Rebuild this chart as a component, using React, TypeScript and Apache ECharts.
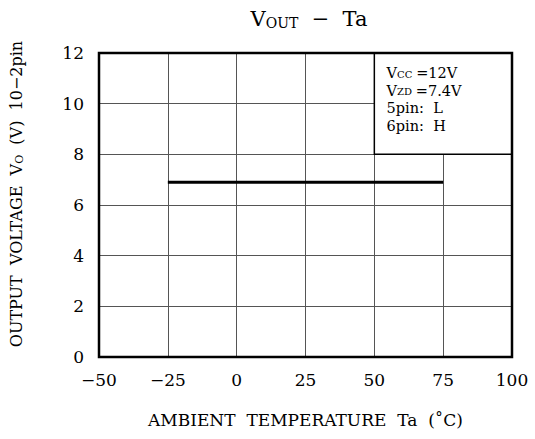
import React, { useEffect, useRef } from "react";
import * as echarts from "echarts";

const xTicks = [-50, -25, 0, 25, 50, 75, 100];
const yTicks = [0, 2, 4, 6, 8, 10, 12];
const lineX = [-25, 75];
const lineY = [6.9, 6.9];
const noteLines = ["{v|V}{s|CC} {n|=12V}", "{v|V}{s|ZD} {n|=7.4V}", "{n|5pin:  L}", "{n|6pin:  H}"];

const FONT = "DejaVu Serif";

export default function App() {
  const ref = useRef<HTMLDivElement>(null);
  useEffect(() => {
    document.body.style.margin = "0";
    const chart = echarts.init(ref.current!, null, { renderer: "svg" });
    const fmt = (v: number) => (v < 0 ? "\u2212" + Math.abs(v) : String(v));
    chart.setOption({
      animation: false,
      backgroundColor: "#fff",
      textStyle: { fontFamily: FONT, color: "#000" },
      title: {
        text: "{v|V}{s|OUT}{v|  \u2212  Ta}",
        left: 304,
        top: 2,
        textAlign: "center",
        textStyle: {
          rich: {
            v: { fontFamily: FONT, fontSize: 21, color: "#000", fontWeight: "normal" },
            s: { fontFamily: FONT, fontSize: 14, color: "#000", padding: [9, 0, 0, 0], fontWeight: "normal" },
          },
        },
      },
      grid: { left: 99, right: 23, top: 53, bottom: 82 },
      xAxis: {
        type: "value",
        min: xTicks[0],
        max: xTicks[xTicks.length - 1],
        interval: 25,
        axisLine: { show: false },
        axisTick: { show: false },
        splitLine: { show: true, lineStyle: { color: "#555", width: 1 } },
        axisLabel: { formatter: fmt, fontSize: 17, color: "#000", margin: 14, fontFamily: FONT },
        name: "AMBIENT  TEMPERATURE  Ta  (\u02DAC)",
        nameLocation: "middle",
        nameGap: 54,
        nameTextStyle: { fontSize: 17, color: "#000", fontFamily: FONT },
      },
      yAxis: {
        type: "value",
        min: yTicks[0],
        max: yTicks[yTicks.length - 1],
        interval: 2,
        axisLine: { show: false },
        axisTick: { show: false },
        splitLine: { show: true, lineStyle: { color: "#555", width: 1 } },
        axisLabel: { fontSize: 17, color: "#000", margin: 15, fontFamily: FONT },
      },
      graphic: [
        {
          type: "text",
          x: 16,
          y: 194,
          rotation: Math.PI / 2,
          style: {
            text: "{n|OUTPUT  VOLTAGE  V}{s|O}{n|  (V)  10\u22122pin}",
            align: "center",
            verticalAlign: "middle",
            rich: {
              n: { fontFamily: FONT, fontSize: 16, fill: "#000" },
              s: { fontFamily: FONT, fontSize: 11, fill: "#000", padding: [7, 0, 0, 0] },
            },
          },
        },
      ],
      series: [
        {
          type: "line",
          data: lineX.map((x, i) => [x, lineY[i]]),
          symbol: "none",
          lineStyle: { color: "#000", width: 3 },
          markArea: {
            silent: true,
            itemStyle: { color: "#fff", borderColor: "#000", borderWidth: 1.5 },
            label: {
              show: true,
              position: [13, 12],
              formatter: noteLines.join("\n"),
              lineHeight: 17.5,
              rich: {
                v: { fontFamily: FONT, fontSize: 14.5, color: "#000", lineHeight: 17.5 },
                s: { fontFamily: FONT, fontSize: 10, color: "#000", padding: [2, 0, 0, 0], lineHeight: 12 },
                n: { fontFamily: FONT, fontSize: 14.5, color: "#000", lineHeight: 17.5 },
              },
            },
            data: [[{ coord: [50, 8] }, { coord: [100, 12] }]],
          },
          z: 3,
        },
        {
          type: "line",
          data: [],
          markArea: {
            silent: true,
            itemStyle: { color: "rgba(0,0,0,0)", borderColor: "#000", borderWidth: 2.5 },
            data: [[{ coord: [-50, 0] }, { coord: [100, 12] }]],
          },
          z: 4,
        },
      ],
    });
    return () => chart.dispose();
  }, []);
  return <div ref={ref} style={{ width: 535, height: 439 }} />;
}
